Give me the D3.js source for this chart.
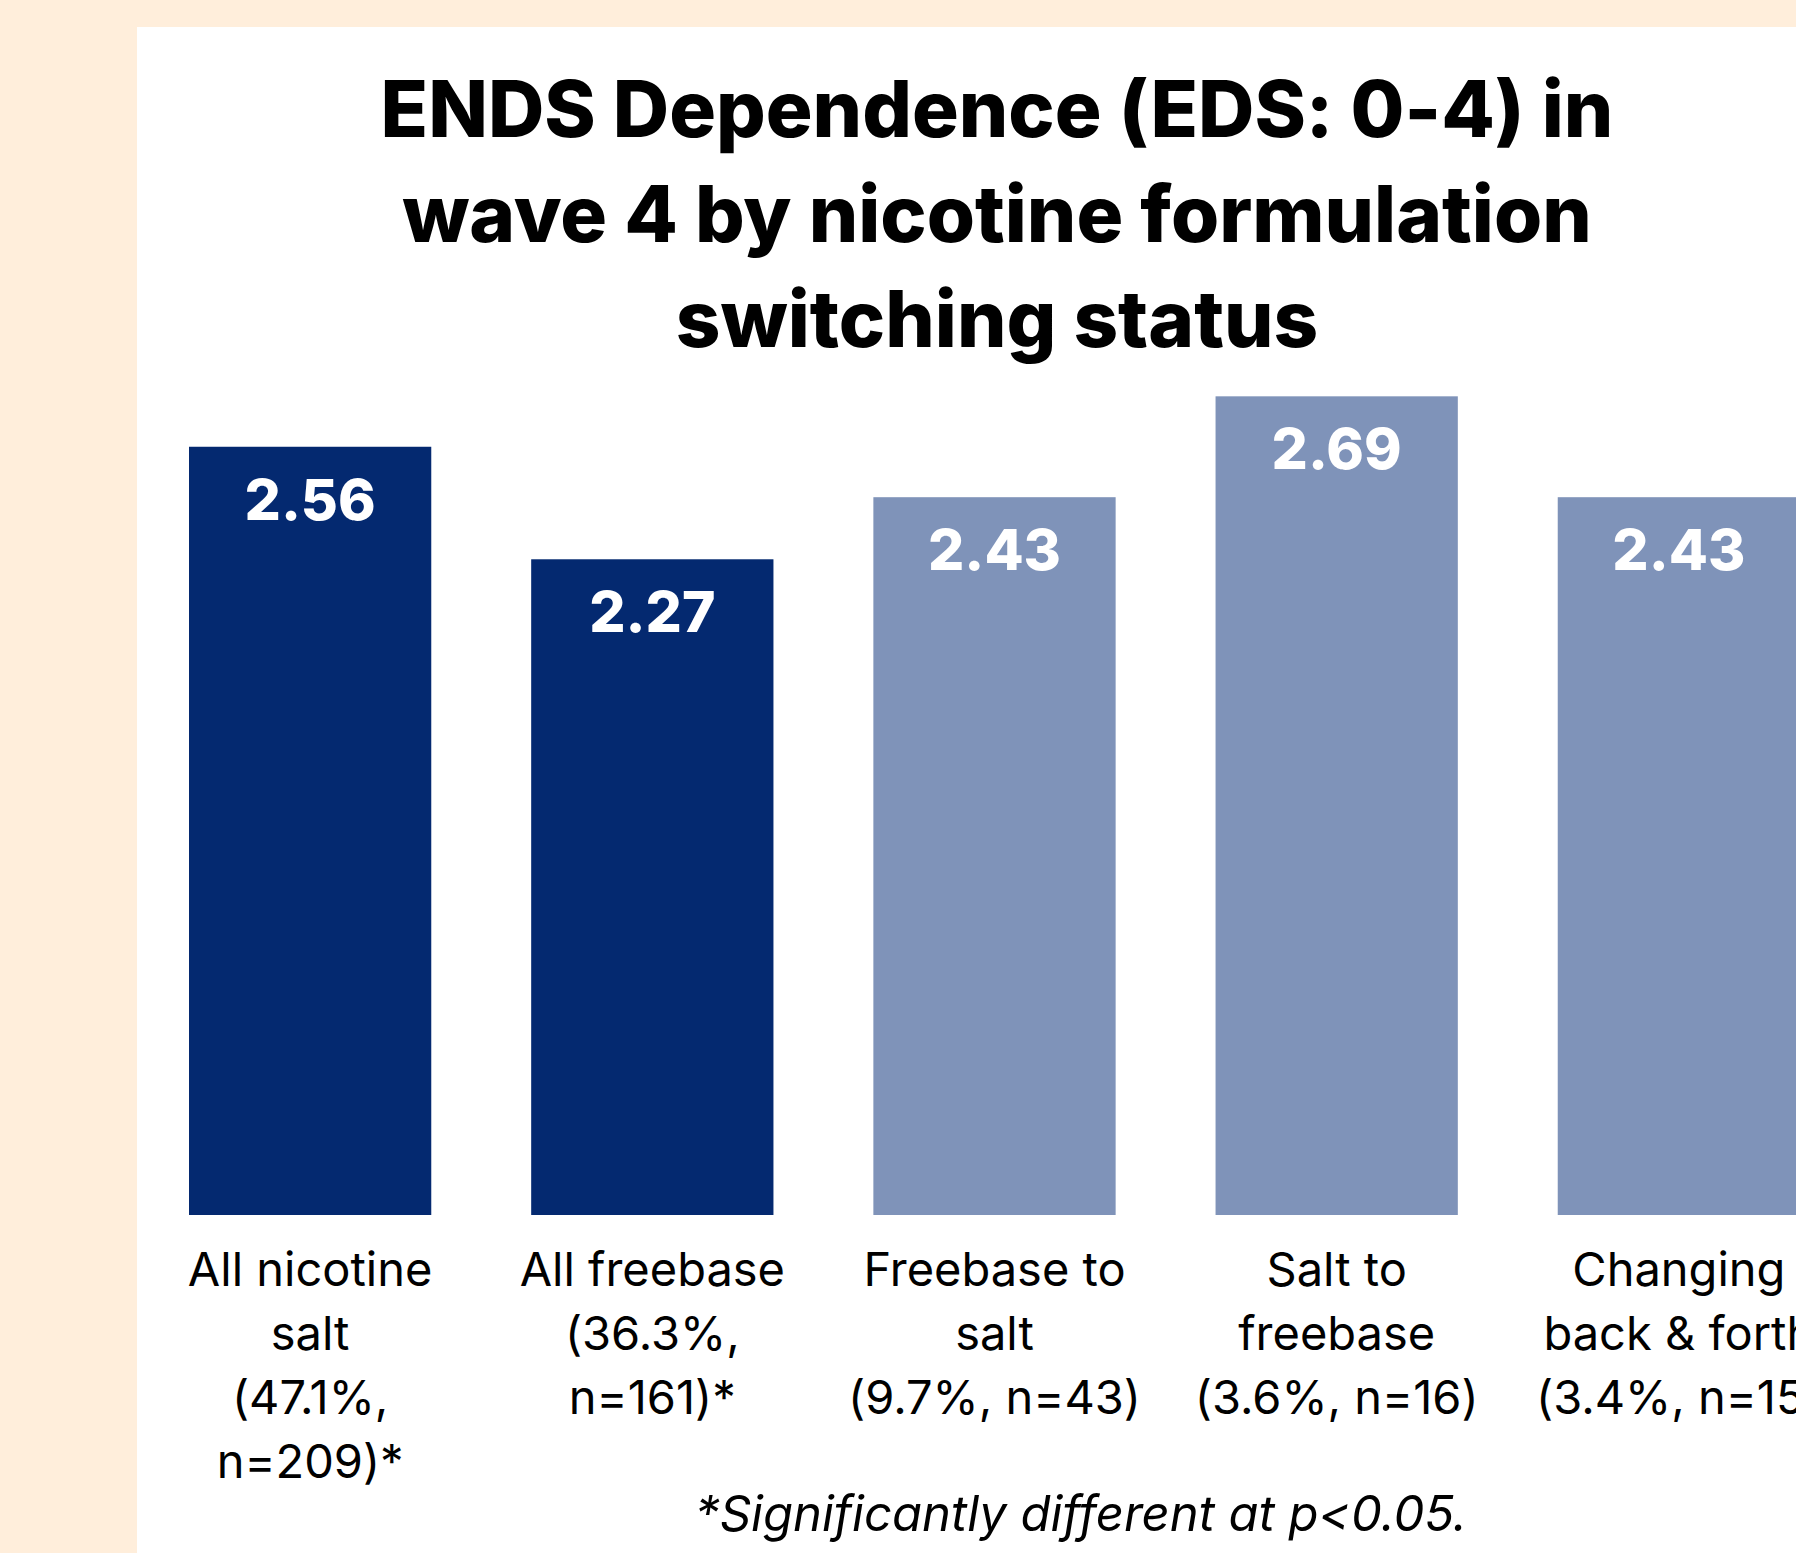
<!DOCTYPE html>
<html>
<head>
<meta charset="utf-8">
<script src="https://cdn.jsdelivr.net/npm/d3@7"></script>
<style>
  body { margin: 0; background: #ffeedb; }
  svg { display: block; }
  text { font-variant-ligatures: none; }
</style>
</head>
<body>
<div id="chart"></div>
<script>
// Data
const categories = ["All nicotine salt", "All freebase", "Freebase to salt", "Salt to freebase", "Changing back & forth"];
const labelLines = [
  ["All nicotine", "salt", "(47.1%,", "n=209)*"],
  ["All freebase", "(36.3%,", "n=161)*"],
  ["Freebase to", "salt", "(9.7%, n=43)"],
  ["Salt to", "freebase", "(3.6%, n=16)"],
  ["Changing", "back & forth", "(3.4%, n=15)"]
];
const values = [2.56, 2.27, 2.43, 2.69, 2.43];
const groups = ["stable", "stable", "switch", "switch", "switch"];
const groupColors = { stable: "#042970", switch: "#7f93b9" };
const titleLines = ["ENDS Dependence (EDS: 0-4) in", "wave 4 by nicotine formulation", "switching status"];
const footnote = "*Significantly different at p<0.05.";

// Dimensions
const width = 1796;
const height = 1553;
const baseY = 1215;

const svg = d3.select("#chart")
  .append("svg")
  .attr("width", width)
  .attr("height", height);

// Background and white panel
svg.append("rect")
  .attr("width", width).attr("height", height)
  .attr("fill", "#ffeedb");
svg.append("rect")
  .attr("x", 137).attr("y", 27)
  .attr("width", width - 137).attr("height", height - 27)
  .attr("fill", "#ffffff");

// Scales
const x = d3.scaleBand()
  .domain(categories)
  .range([189, 1800])
  .paddingInner(0.292)
  .paddingOuter(0);

const y = d3.scaleLinear()
  .domain([0.58, 3])
  .range([baseY, baseY - 2.42 * 388]);

// Title
svg.append("g")
  .selectAll("text")
  .data(titleLines)
  .join("text")
  .attr("x", 997)
  .attr("y", (d, i) => 137 + i * 105)
  .attr("text-anchor", "middle")
  .attr("font-family", "Inter, sans-serif")
  .attr("font-weight", 800)
  .attr("font-size", "78px")
  .attr("fill", "#000")
  .text(d => d);

// Bars
svg.append("g")
  .selectAll("rect")
  .data(values)
  .join("rect")
  .attr("x", (d, i) => x(categories[i]))
  .attr("y", d => y(d))
  .attr("width", x.bandwidth())
  .attr("height", d => baseY - y(d))
  .attr("fill", (d, i) => groupColors[groups[i]]);

// Value labels
svg.append("g")
  .selectAll("text")
  .data(values)
  .join("text")
  .attr("x", (d, i) => x(categories[i]) + x.bandwidth() / 2)
  .attr("y", d => y(d) + 73)
  .attr("text-anchor", "middle")
  .attr("font-family", "Inter, sans-serif")
  .attr("font-weight", 800)
  .attr("font-size", "57px")
  .attr("fill", "#fff")
  .text(d => d.toFixed(2));

// Category labels
const labels = svg.append("g")
  .selectAll("text")
  .data(labelLines)
  .join("text")
  .attr("text-anchor", "middle")
  .attr("font-family", "Inter, sans-serif")
  .attr("font-size", "47px")
  .attr("fill", "#000");

labels.selectAll("tspan")
  .data((d, i) => d.map(line => ({ line, i })))
  .join("tspan")
  .attr("x", d => x(categories[d.i]) + x.bandwidth() / 2)
  .attr("y", (d, j) => 1286 + j * 64)
  .text(d => d.line);

// Footnote
svg.append("text")
  .attr("x", 1081)
  .attr("y", 1531)
  .attr("text-anchor", "middle")
  .attr("font-family", "Inter, sans-serif")
  .attr("font-style", "italic")
  .attr("font-size", "49px")
  .attr("fill", "#000")
  .text(footnote);
</script>
</body>
</html>
